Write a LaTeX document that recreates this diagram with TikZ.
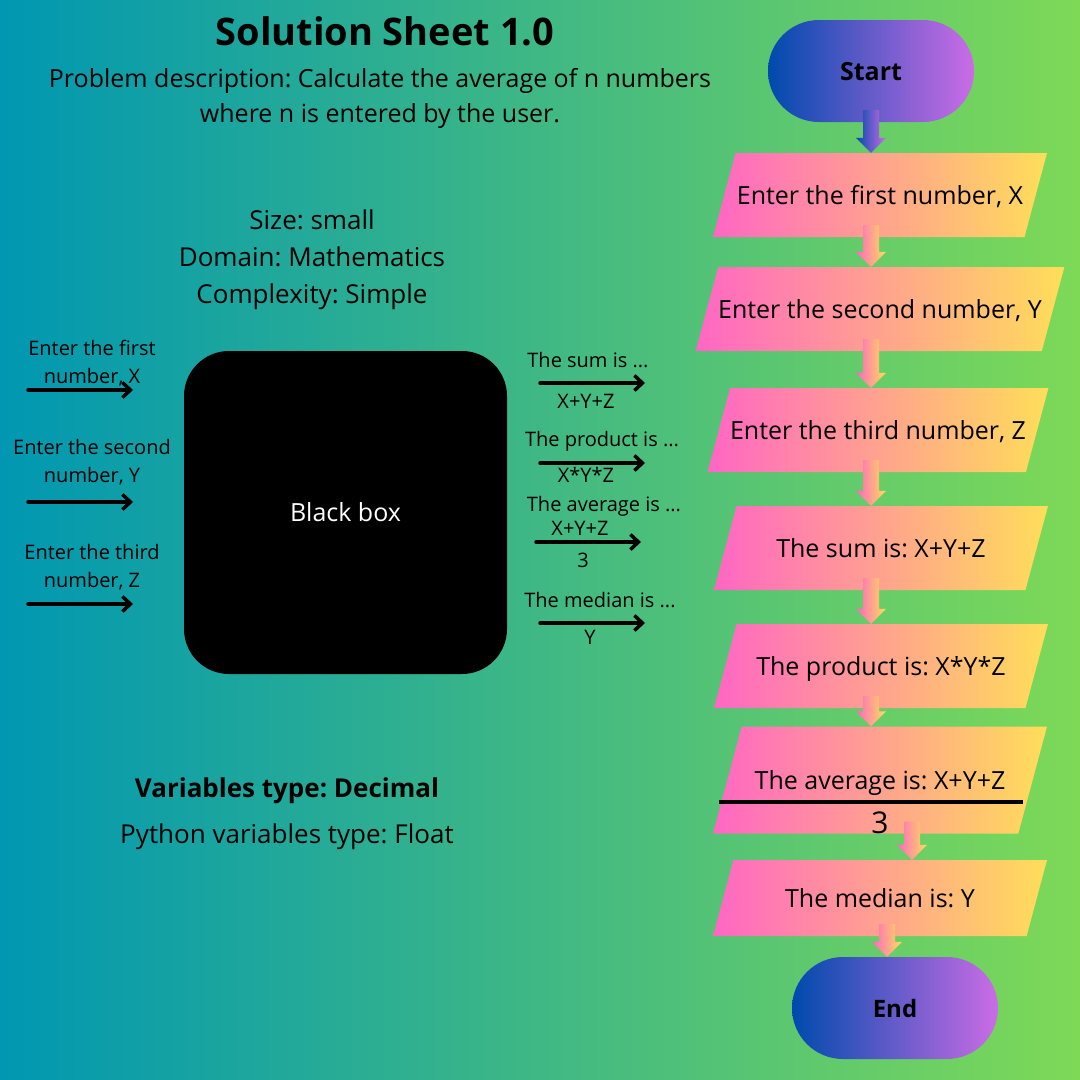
\documentclass[tikz,border=0pt]{standalone}
\usepackage{fontspec}
\setmainfont{Open Sans}
\usetikzlibrary{shapes.geometric,arrows.meta,calc}
\definecolor{seaL}{HTML}{0097B2}
\definecolor{seaR}{HTML}{7ED957}
\definecolor{pinkL}{HTML}{FF66C4}
\definecolor{goldR}{HTML}{FFDE59}
\definecolor{navyL}{HTML}{004AAD}
\definecolor{lilacR}{HTML}{CB6CE6}
\newcommand{\fsz}[2]{\fontsize{#1}{#2}\selectfont}
\frenchspacing
% block arrow between two nodes: x, from, to, fill style
\newcommand{\flowarrow}[4]{%
	\path[#4] let \p1=(#2.south), \p2=(#3.north) in
	(#1pt-8pt,\y1+12pt) -- (#1pt+8pt,\y1+12pt) -- (#1pt+8pt,\y2+15pt) -- (#1pt+15pt,\y2+15pt)
	-- (#1pt,\y2) -- (#1pt-15pt,\y2+15pt) -- (#1pt-8pt,\y2+15pt) -- cycle;}
\begin{document}
\begin{tikzpicture}[x=1pt,y=-1pt,line join=round,line cap=round,
	lbl/.style={anchor=base,inner sep=0pt},
	term/.style={rectangle,rounded corners=51pt,minimum width=206pt,minimum height=102pt,
		left color=navyL,right color=lilacR,text height=18pt,text depth=0pt,font=\fsz{25}{30}\bfseries},
	io/.style={trapezium,trapezium left angle=75,trapezium right angle=105,trapezium stretches body,
		minimum width=334pt,inner xsep=0pt,inner ysep=33pt,left color=pinkL,right color=goldR,
		text height=18pt,text depth=0pt,font=\fsz{25}{30}},
	blackbox/.style={rectangle,fill=black,rounded corners=45pt,minimum width=323pt,minimum height=323pt,
		text=white,text height=18pt,text depth=0pt,font=\fsz{25}{30}},
	inarrow/.style={line width=3.5pt,-{Straight Barb[length=8pt,width=15pt]}},
	warm/.style={left color=pinkL,right color=goldR},
	cool/.style={left color=navyL,right color=lilacR}]
	\shade[left color=seaL,right color=seaR] (0,0) rectangle (1080,1080);
	% heading
	\node[lbl,font=\fsz{38}{44}\bfseries] (title) at (385,45) {Solution Sheet 1.0};
	\node[lbl,font=\fsz{25}{30}] (prob1) at (380,87) {Problem description: Calculate the average of n numbers};
	\node[lbl,font=\fsz{25}{30}] (prob2) at (380,122) {where n is entered by the user.};
	\node[lbl,font=\fsz{26}{31}] (size) at (312,229) {Size: small};
	\node[lbl,font=\fsz{26}{31}] (domain) at (312,266) {Domain: Mathematics};
	\node[lbl,font=\fsz{26}{31}] (cmplx) at (312,303) {Complexity: Simple};
	\node[lbl,font=\fsz{26}{31}\bfseries] (vartype) at (287,797) {Variables type: Decimal};
	\node[lbl,font=\fsz{26}{31}] (pytype) at (287,843) {Python variables type: Float};
	% black box with inputs and outputs
	\node[blackbox] (bbox) at (345.5,512.5) {Black box};
	\begin{scope}[every node/.style={lbl,font=\fsz{20}{24}}]
		\node (inA1) at (92,355) {Enter the first};
		\node (inA2) at (92,383) {number, X};
		\node (inB1) at (92,454) {Enter the second};
		\node (inB2) at (92,482) {number, Y};
		\node (inC1) at (92,559) {Enter the third};
		\node (inC2) at (92,587) {number, Z};
		\node (sum1) at (588,367) {The sum is ...};
		\node (sum2) at (586,408) {X+Y+Z};
		\node (prod1) at (602,446) {The product is ...};
		\node (prod2) at (586,482) {X*Y*Z};
		\node (avg1) at (604,511) {The average is ...};
		\node (avg2) at (580,535) {X+Y+Z};
		\node (avg3) at (583,567) {3};
		\node (med1) at (600,607) {The median is ...};
		\node (med2) at (590,644) {Y};
	\end{scope}
	\coordinate (inAs) at (28,390); \coordinate (inAe) at (133,390);
	\coordinate (inBs) at (28,502); \coordinate (inBe) at (133,502);
	\coordinate (inCs) at (28,604); \coordinate (inCe) at (133,604);
	\coordinate (sumS) at (540,383); \coordinate (sumE) at (645,383);
	\coordinate (prodS) at (540,463); \coordinate (prodE) at (645,463);
	\coordinate (avgS) at (536,542); \coordinate (avgE) at (641,542);
	\coordinate (medS) at (540,623); \coordinate (medE) at (645,623);
	\draw[inarrow] (inAs)--(inAe);
	\draw[inarrow] (inBs)--(inBe);
	\draw[inarrow] (inCs)--(inCe);
	\draw[inarrow] (sumS)--(sumE);
	\draw[inarrow] (prodS)--(prodE);
	\draw[inarrow] (avgS)--(avgE);
	\draw[inarrow] (medS)--(medE);
	% flowchart
	\node[term] (start) at (871,71) {Start};
	\node[io] (in1) at (880,195) {Enter the first number, X};
	\node[io,minimum width=364pt] (in2) at (880,309) {Enter the second number, Y};
	\node[io] (in3) at (878,430) {Enter the third number, Z};
	\node[io] (out1) at (881,548) {The sum is: X+Y+Z};
	\node[io] (out2) at (881,666) {The product is: X*Y*Z};
	\node[io,inner ysep=44.5pt] (out3) at (880,780) {The average is: X+Y+Z};
	\node[io,inner ysep=29pt] (out4) at (880,898) {The median is: Y};
	\node[term,font=\fsz{24}{29}\bfseries] (end) at (895,1008) {End};
	\draw[line width=4pt,line cap=butt] (719,802)--(1023,802);
	\node[lbl,font=\fsz{30}{36}] (avgden) at (880,833) {3};
	\flowarrow{871}{start}{in1}{cool}
	\flowarrow{871}{in1}{in2}{warm}
	\flowarrow{871}{in2}{in3}{warm}
	\flowarrow{871}{in3}{out1}{warm}
	\flowarrow{871}{out1}{out2}{warm}
	\flowarrow{871}{out2}{out3}{warm}
	\flowarrow{912}{out3}{out4}{warm}
	\flowarrow{887}{out4}{end}{warm}
\end{tikzpicture}
\end{document}
